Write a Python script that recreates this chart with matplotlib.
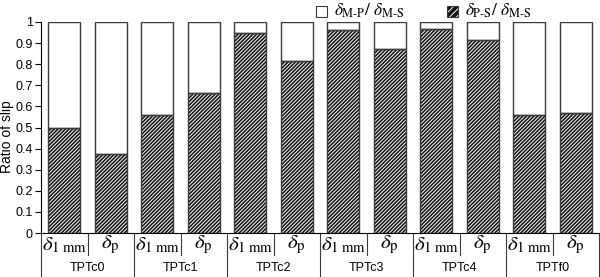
import matplotlib
matplotlib.use("Agg")
import matplotlib.pyplot as plt
import numpy as np
from matplotlib.patches import Rectangle

plt.rcParams["font.family"] = ["Liberation Sans", "DejaVu Sans"]
plt.rcParams["mathtext.fontset"] = "stix"
plt.rcParams["hatch.linewidth"] = 0.7

groups = ["TPTc0", "TPTc1", "TPTc2", "TPTc3", "TPTc4", "TPTf0"]
sub_labels = [r"$\delta_{\rm 1\ mm}$", r"$\delta_{\rm p}$"]
# delta_P-S / delta_M-S (hatched part); remainder is delta_M-P / delta_M-S
ps_ratio = [0.50, 0.375, 0.56, 0.665, 0.948, 0.815, 0.962, 0.87, 0.966, 0.915, 0.56, 0.57]
mp_ratio = [1 - v for v in ps_ratio]

fig = plt.figure(figsize=(6.0, 2.77), dpi=100)
ax = fig.add_axes([41 / 600, 1 - 233 / 277, 558 / 600, 211 / 277])

x = np.arange(len(ps_ratio))
w = 0.69
edge = "#3a3a3a"
ax.bar(x, ps_ratio, w, color="#151515", edgecolor="white", hatch="/" * 9, linewidth=0)
ax.bar(x, mp_ratio, w, bottom=ps_ratio, color="white", linewidth=0)
ax.bar(x, ps_ratio, w, fill=False, edgecolor=edge, linewidth=1.0)
ax.bar(x, mp_ratio, w, bottom=ps_ratio, fill=False, edgecolor=edge, linewidth=1.0)

ax.set_xlim(-0.5, len(x) - 0.5)
ax.set_ylim(0, 1)
ax.set_yticks(np.arange(0, 1.01, 0.1))
ax.set_yticklabels(["0"] + [f"{v:.1f}" for v in np.arange(0.1, 0.95, 0.1)] + ["1"], fontsize=9)
ax.tick_params(axis="y", length=4, width=0.8, pad=2)
ax.set_xticks([])
for s in ["top", "right"]:
    ax.spines[s].set_visible(False)
ax.spines["left"].set_linewidth(0.8)
ax.spines["bottom"].set_linewidth(0.8)
fig.text(7 / 600, 1 - 137 / 277, "Ratio of slip", rotation=90, ha="center", va="center", fontsize=10)

# category table below the axis
trans = ax.get_xaxis_transform()
row1 = -22 / 211
row2 = -44 / 211
for g in range(len(groups) + 1):
    xg = g * 2 - 0.5
    ax.plot([xg, xg], [0, row2], transform=trans, color=edge, lw=0.8, clip_on=False)
for g, name in enumerate(groups):
    ax.plot([g * 2 + 0.5] * 2, [0, row1], transform=trans, color=edge, lw=0.8, clip_on=False)
    ax.text(g * 2 + 0.5, -35 / 211, name, transform=trans, ha="center", va="center", fontsize=9)
    for k, lab in enumerate(sub_labels):
        ax.text(g * 2 + k, -12 / 211, lab, transform=trans, ha="center", va="center", fontsize=15)

# legend
def legend_box(x0, hatched):
    if hatched:
        fig.patches.append(Rectangle((x0 / 600, 1 - 17 / 277), 11 / 600, 11 / 277, transform=fig.transFigure,
                                     facecolor="#151515", edgecolor="white", hatch="/" * 5, lw=0))
    fig.patches.append(Rectangle((x0 / 600, 1 - 17 / 277), 11 / 600, 11 / 277, transform=fig.transFigure,
                                 fill=False, edgecolor=edge, lw=0.8))

legend_box(316, False)
fig.text(334 / 600, 1 - 11 / 277, r"$\delta_{\rm M\text{-}P}/\ \delta_{\rm M\text{-}S}$", fontsize=12.5, va="center")
legend_box(447, True)
fig.text(465 / 600, 1 - 11 / 277, r"$\delta_{\rm P\text{-}S}/\ \delta_{\rm M\text{-}S}$", fontsize=12.5, va="center")

fig.savefig("out.png", dpi=100)
